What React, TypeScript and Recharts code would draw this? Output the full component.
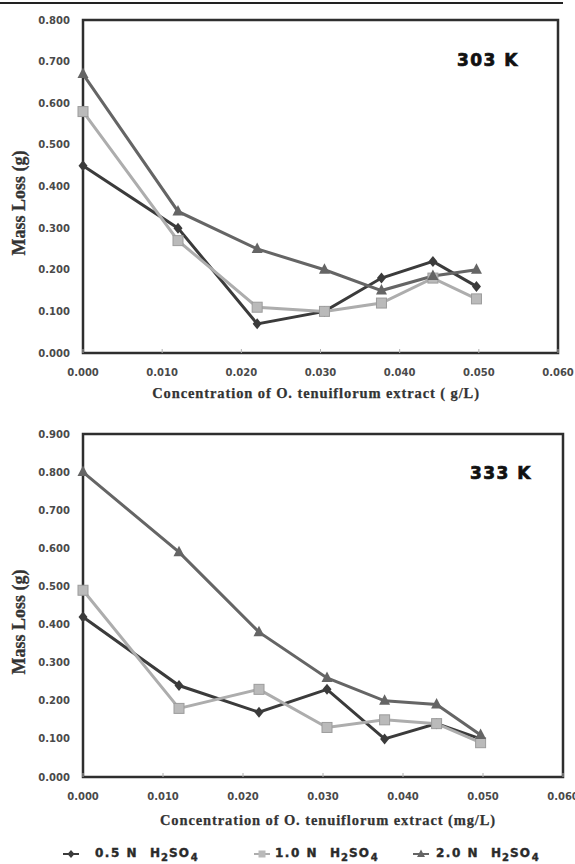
import React from 'react';
import { LineChart, Line, XAxis, YAxis, ReferenceArea } from 'recharts';

// ---------- data ----------
const concentrations = [0, 0.012, 0.022, 0.0305, 0.0377, 0.0442, 0.0497];
const xTicks = [0, 0.01, 0.02, 0.03, 0.04, 0.05, 0.06];
const yTicks303 = [0, 0.1, 0.2, 0.3, 0.4, 0.5, 0.6, 0.7, 0.8];
const yTicks333 = [0, 0.1, 0.2, 0.3, 0.4, 0.5, 0.6, 0.7, 0.8, 0.9];

const loss303Acid05 = [0.45, 0.3, 0.07, 0.1, 0.18, 0.22, 0.16];
const loss303Acid10 = [0.58, 0.27, 0.11, 0.1, 0.12, 0.18, 0.13];
const loss303Acid20 = [0.67, 0.34, 0.25, 0.2, 0.15, 0.185, 0.2];

const loss333Acid05 = [0.42, 0.24, 0.17, 0.23, 0.1, 0.14, 0.1];
const loss333Acid10 = [0.49, 0.18, 0.23, 0.13, 0.15, 0.14, 0.09];
const loss333Acid20 = [0.8, 0.59, 0.38, 0.26, 0.2, 0.19, 0.11];

const seriesLabels = ['0.5 N', '1.0 N', '2.0 N'];
const temperatureLabels = ['303 K', '333 K'];
const xTitles = [
  'Concentration of O. tenuiflorum extract ( g/L)',
  'Concentration of O. tenuiflorum extract (mg/L)',
];
const yTitle = 'Mass Loss (g)';

// ---------- styles ----------
const C05 = '#3b3b3b';
const C10 = '#adadad';
const C20 = '#656565';
const TICK_FONT = '"DejaVu Sans", sans-serif';
const SERIF = '"Liberation Serif", "Times New Roman", serif';

const buildRows = (a: number[], b: number[], c: number[]) =>
  concentrations.map((x, i) => ({ x, s05: a[i], s10: b[i], s20: c[i] }));

const rows303 = buildRows(loss303Acid05, loss303Acid10, loss303Acid20);
const rows333 = buildRows(loss333Acid05, loss333Acid10, loss333Acid20);

const diamondDot = (p: any) => {
  const { cx, cy, index } = p;
  if (cx == null || cy == null) return <g key={`d${index}`} />;
  return (
    <polygon
      key={`d${index}`}
      points={`${cx},${cy - 5.5} ${cx + 4.5},${cy} ${cx},${cy + 5.5} ${cx - 4.5},${cy}`}
      fill={C05}
    />
  );
};
const squareDot = (p: any) => {
  const { cx, cy, index } = p;
  if (cx == null || cy == null) return <g key={`s${index}`} />;
  return (
    <rect key={`s${index}`} x={cx - 5} y={cy - 5} width={10} height={10} fill="#bababa" stroke="#9c9c9c" strokeWidth={1} />
  );
};
const triangleDot = (p: any) => {
  const { cx, cy, index } = p;
  if (cx == null || cy == null) return <g key={`t${index}`} />;
  return (
    <polygon
      key={`t${index}`}
      points={`${cx},${cy - 6.5} ${cx + 5.5},${cy + 4} ${cx - 5.5},${cy + 4}`}
      fill={C20}
    />
  );
};

type PanelProps = {
  top: number;
  height: number;
  marginRight: number;
  yMax: number;
  yTicks: number[];
  rows: any[];
  xTitle: string;
  xTitleX: number;
  xTitleDy: number;
  yTitleY: number;
};

function Panel({ top, height, marginRight, yMax, yTicks, rows, xTitle, xTitleX, xTitleDy, yTitleY }: PanelProps) {
  return (
    <div style={{ position: 'absolute', left: 0, top, width: 575, height }}>
      <LineChart width={575} height={height} data={rows} margin={{ top: 20, right: marginRight, bottom: 7, left: 0 }}>
        <ReferenceArea x1={0} x2={0.06} y1={0} y2={yMax} fill="none" stroke="#2e2e2e" strokeWidth={2.5} />
        <XAxis
          dataKey="x"
          type="number"
          domain={[0, 0.06]}
          ticks={xTicks}
          tickFormatter={(v: number) => v.toFixed(3)}
          axisLine={false}
          tickSize={-4}
          tickMargin={20}
          tickLine={{ stroke: '#b0b0b0' }}
          height={50}
          interval={0}
          tick={{ fontFamily: TICK_FONT, fontWeight: 'bold', fontSize: 10, fill: '#4a4a4a' }}
          label={{
            content: (props: any) => {
              const vb = props.viewBox || {};
              return (
                <text
                  x={xTitleX}
                  y={(vb.y || 0) + xTitleDy}
                  textAnchor="middle"
                  fontFamily={SERIF}
                  fontWeight="bold"
                  fontSize={14.5}
                  letterSpacing={0.9}
                  fill="#333"
                  stroke="#333"
                  strokeWidth={0.25}
                >
                  {xTitle}
                </text>
              );
            },
          }}
        />
        <YAxis
          type="number"
          domain={[0, yMax]}
          ticks={yTicks}
          tickFormatter={(v: number) => v.toFixed(3)}
          axisLine={false}
          tickLine={false}
          tickSize={6}
          tickMargin={7}
          width={83}
          interval={0}
          tick={{ fontFamily: TICK_FONT, fontWeight: 'bold', fontSize: 10, fill: '#4a4a4a' }}
          label={{
            content: () => (
              <text
                x={19}
                y={yTitleY}
                transform={`rotate(-90, 19, ${yTitleY})`}
                textAnchor="middle"
                dominantBaseline="central"
                fontFamily={SERIF}
                fontWeight="bold"
                fontSize={18}
                fill="#333"
                stroke="#333"
                strokeWidth={0.3}
              >
                {yTitle}
              </text>
            ),
          }}
        />
        <Line dataKey="s05" name={seriesLabels[0]} stroke={C05} strokeWidth={3} dot={diamondDot} isAnimationActive={false} />
        <Line dataKey="s10" name={seriesLabels[1]} stroke={C10} strokeWidth={3} dot={squareDot} isAnimationActive={false} />
        <Line dataKey="s20" name={seriesLabels[2]} stroke={C20} strokeWidth={3} dot={triangleDot} isAnimationActive={false} />
      </LineChart>
    </div>
  );
}

const LegendMarker = ({ kind }: { kind: number }) => {
  const color = kind === 0 ? C05 : kind === 1 ? C10 : C20;
  return (
    <svg width={18} height={12} style={{ display: 'block' }}>
      <line x1={1} y1={6} x2={17} y2={6} stroke={color} strokeWidth={2} />
      {kind === 0 && <polygon points="9,2 12.5,6 9,10 5.5,6" fill={color} />}
      {kind === 1 && <rect x={5.5} y={2.5} width={7} height={7} fill="#bababa" />}
      {kind === 2 && <polygon points="9,1.5 13,9 5,9" fill={color} />}
    </svg>
  );
};

const legendMarkerX = [62, 253, 412];
const legendTextX = [95, 275, 436];

export default function App() {
  return (
    <div style={{ position: 'absolute', left: 0, top: 0, width: 575, height: 864, background: '#fff', overflow: 'hidden' }}>
      <div style={{ position: 'absolute', left: 0, top: 2, width: 563, height: 1.6, background: '#222' }} />
      <Panel
        top={0}
        height={410}
        marginRight={17}
        yMax={0.8}
        yTicks={yTicks303}
        rows={rows303}
        xTitle={xTitles[0]}
        xTitleX={316}
        xTitleDy={45}
        yTitleY={203}
      />
      <Panel
        top={414}
        height={420}
        marginRight={12}
        yMax={0.9}
        yTicks={yTicks333}
        rows={rows333}
        xTitle={xTitles[1]}
        xTitleX={328}
        xTitleDy={48}
        yTitleY={208}
      />
      {[
        { label: temperatureLabels[0], x: 488, y: 60 },
        { label: temperatureLabels[1], x: 501, y: 473 },
      ].map((t) => (
        <div
          key={t.label}
          style={{
            position: 'absolute',
            left: t.x - 50,
            top: t.y - 10,
            width: 100,
            height: 20,
            lineHeight: '20px',
            textAlign: 'center',
            fontFamily: TICK_FONT,
            fontWeight: 'bold',
            fontSize: 17,
            letterSpacing: 1.5,
            color: '#111',
            WebkitTextStroke: '0.7px #111',
          }}
        >
          {t.label}
        </div>
      ))}
      {seriesLabels.map((s, i) => (
        <React.Fragment key={s}>
          <div style={{ position: 'absolute', left: legendMarkerX[i], top: 848 }}>
            <LegendMarker kind={i} />
          </div>
          <div
            style={{
              position: 'absolute',
              left: legendTextX[i],
              top: 847,
              whiteSpace: 'nowrap',
              fontFamily: TICK_FONT,
              fontWeight: 'bold',
              fontSize: 12,
              lineHeight: '12px',
              color: '#2a2a2a',
              WebkitTextStroke: '0.4px #2a2a2a',
            }}
          >
            <span style={{ letterSpacing: 1.5 }}>{s}</span>
            <span style={{ marginLeft: 12, letterSpacing: 1 }}>H</span>
            <span style={{ fontSize: 10, position: 'relative', top: 4 }}>2</span>
            <span style={{ letterSpacing: 1, marginLeft: 1 }}>SO</span>
            <span style={{ fontSize: 10, position: 'relative', top: 4, marginLeft: 1 }}>4</span>
          </div>
        </React.Fragment>
      ))}
    </div>
  );
}
